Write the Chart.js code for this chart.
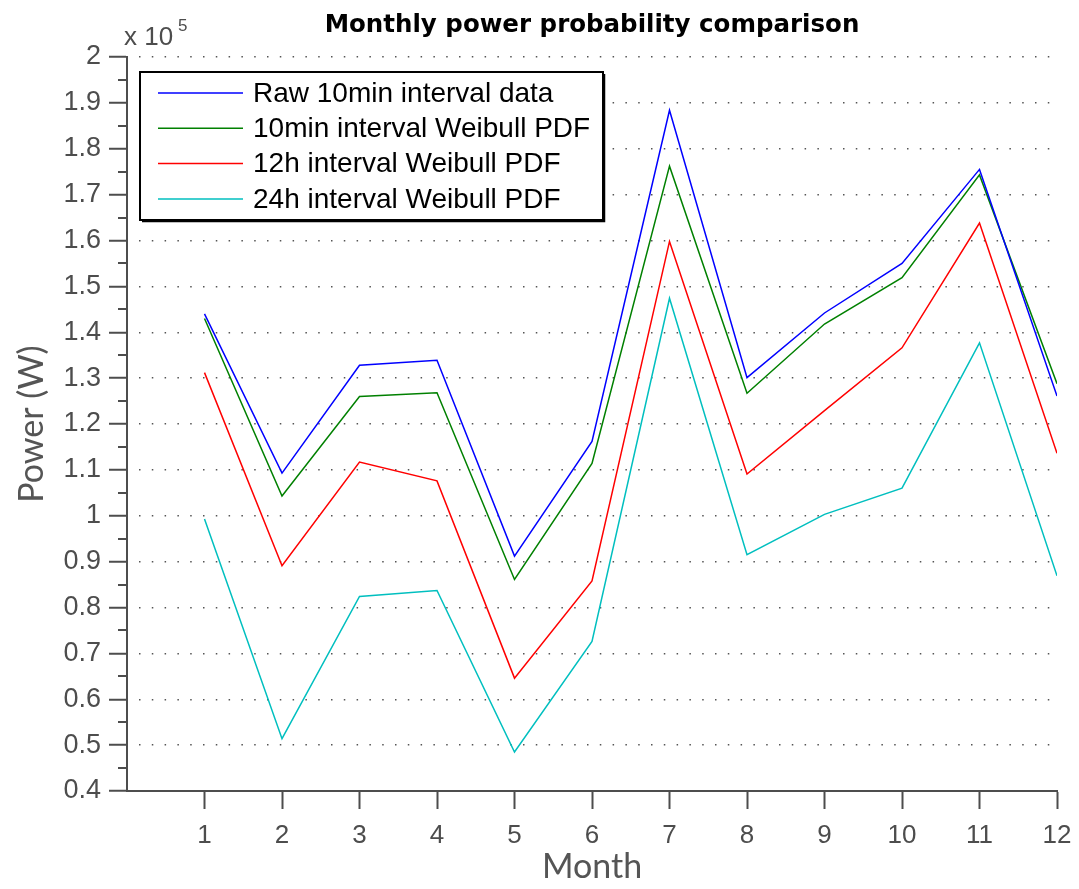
<!DOCTYPE html>
<html>
<head>
<meta charset="utf-8">
<script src="https://cdn.jsdelivr.net/npm/chart.js@4"></script>
<style>
  body { margin: 0; background: #fff; }
  canvas { display: block; }
</style>
</head>
<body>
<canvas id="grafico" width="1079" height="889"></canvas>
<script>
// months on the x axis
let meses = [1, 2, 3, 4, 5, 6, 7, 8, 9, 10, 11, 12]

// monthly mean power in W
let raw10min = [144000, 109300, 132800, 133900, 91200, 116200, 188400, 130100, 144200, 155000, 175500, 126100]
let weibull10min = [143000, 104300, 126000, 126800, 86100, 111400, 176200, 126700, 141800, 151900, 174300, 128800]
let weibull12h = [131200, 89100, 111700, 107600, 64600, 85800, 159800, 109100, 122900, 136600, 163800, 113600]
let weibull24h = [99300, 51400, 82400, 83700, 48500, 72600, 147400, 91500, 100300, 106000, 137700, 86900]

let nomes = ['Raw 10min interval data', '10min interval Weibull PDF', '12h interval Weibull PDF', '24h interval Weibull PDF']
let cores = ['#0000ff', '#008000', '#ff0000', '#00bfbf']
let titulo = 'Monthly power probability comparison'

let eixo = '#4d4d4d'
let fonteTicks = "'Liberation Sans', Arial, sans-serif"

function serie(i, valores) {
    return {
        label: nomes[i],
        data: meses.map((m, k) => ({ x: m, y: valores[k] })),
        borderColor: cores[i],
        backgroundColor: cores[i],
        borderWidth: 1.5,
        pointRadius: 0,
        tension: 0,
        fill: false
    }
}

// title over the plot, small ticks between the labelled ones, "x 10^5" tag
const extras = {
    id: 'extras',
    afterDraw(chart) {
        let ctx = chart.ctx
        let y = chart.scales.y
        let area = chart.chartArea
        ctx.save()
        ctx.strokeStyle = eixo
        ctx.lineWidth = 2
        for (let v = 45000; v < 200000; v += 10000) {
            let py = Math.round(y.getPixelForValue(v))
            ctx.beginPath()
            ctx.moveTo(y.right - 9, py)
            ctx.lineTo(y.right, py)
            ctx.stroke()
        }
        ctx.fillStyle = eixo
        ctx.textBaseline = 'alphabetic'
        ctx.textAlign = 'left'
        ctx.font = '26px ' + fonteTicks
        ctx.fillText('x 10', 124, 45)
        ctx.font = '17px ' + fonteTicks
        ctx.fillText('5', 178, 31)

        ctx.fillStyle = '#000'
        ctx.textAlign = 'center'
        ctx.font = "bold 24.5px 'DejaVu Sans', sans-serif"
        ctx.fillText(titulo, (area.left + area.right) / 2, 32)
        ctx.restore()
    }
}

// legend box in the upper left of the plot
const legenda = {
    id: 'legenda',
    afterDraw(chart) {
        let ctx = chart.ctx
        let x0 = 140, y0 = 72, w = 463, h = 148
        ctx.save()
        ctx.fillStyle = '#fff'
        ctx.fillRect(x0, y0, w, h)
        ctx.strokeStyle = '#000'
        ctx.lineWidth = 2
        ctx.strokeRect(x0, y0, w, h)
        ctx.lineWidth = 1.5
        ctx.beginPath()
        ctx.moveTo(x0 + 2, y0 + h + 1.5)
        ctx.lineTo(x0 + w + 1.5, y0 + h + 1.5)
        ctx.lineTo(x0 + w + 1.5, y0 + 2)
        ctx.stroke()
        ctx.font = '28px ' + fonteTicks
        ctx.textBaseline = 'middle'
        chart.data.datasets.forEach((ds, i) => {
            let ly = y0 + 21 + i * 35.3
            ctx.strokeStyle = ds.borderColor
            ctx.lineWidth = 1.5
            ctx.beginPath()
            ctx.moveTo(158, ly)
            ctx.lineTo(243, ly)
            ctx.stroke()
            ctx.fillStyle = '#000'
            ctx.fillText(ds.label, 253, ly + 1)
        })
        ctx.restore()
    }
}

new Chart(document.getElementById('grafico'), {
    type: 'line',
    data: {
        datasets: [
            serie(0, raw10min),
            serie(1, weibull10min),
            serie(2, weibull12h),
            serie(3, weibull24h)
        ]
    },
    options: {
        responsive: false,
        animation: false,
        layout: { padding: { left: 0, right: 22, top: 57, bottom: 0 } },
        plugins: {
            legend: { display: false },
            tooltip: { enabled: false },
            title: { display: false }
        },
        scales: {
            x: {
                type: 'linear',
                min: 0,
                max: 12,
                afterFit: s => {
                    s.height = 98
                    s.paddingLeft = 0
                    s.paddingRight = 0
                },
                ticks: {
                    stepSize: 1,
                    autoSkip: false,
                    maxRotation: 0,
                    color: eixo,
                    padding: 11,
                    font: { family: fonteTicks, size: 26 },
                    callback: v => v === 0 ? '' : v
                },
                grid: {
                    drawOnChartArea: false,
                    tickLength: 18,
                    tickWidth: 2,
                    tickColor: c => c.tick && c.tick.value === 0 ? 'rgba(0,0,0,0)' : eixo
                },
                border: { color: eixo, width: 2 },
                title: {
                    display: true,
                    text: 'Month',
                    color: '#555',
                    font: { family: "Lato, 'DejaVu Sans', sans-serif", size: 34 },
                    padding: { top: 0, bottom: 2 }
                }
            },
            y: {
                min: 40000,
                max: 200000,
                afterFit: s => { s.width = 127 },
                ticks: {
                    stepSize: 10000,
                    color: eixo,
                    padding: 8,
                    font: { family: fonteTicks, size: 27 },
                    callback: v => String(+(v / 1e5).toFixed(1))
                },
                grid: {
                    color: '#555',
                    lineWidth: 1.5,
                    tickLength: 18,
                    tickWidth: 2,
                    tickColor: eixo
                },
                border: { color: eixo, width: 2, dash: [1.5, 11.3], dashOffset: -11 },
                title: {
                    display: true,
                    text: 'Power (W)',
                    color: '#555',
                    font: { family: "Lato, 'DejaVu Sans', sans-serif", size: 34 },
                    padding: { top: 12, bottom: 0 }
                }
            }
        }
    },
    plugins: [extras, legenda]
})
</script>
</body>
</html>
